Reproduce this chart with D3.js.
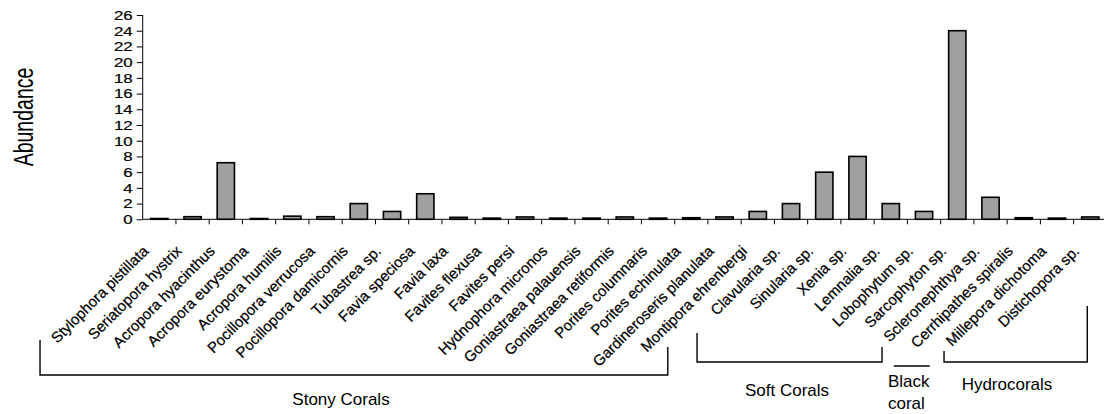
<!DOCTYPE html>
<html>
<head>
<meta charset="utf-8">
<script src="https://cdn.jsdelivr.net/npm/d3@7"></script>
<style>
  html, body { margin: 0; padding: 0; background: #fff; }
  svg { display: block; font-family: "Liberation Sans", Arial, sans-serif; }
</style>
</head>
<body>
<svg id="chart" width="1104" height="414"></svg>
<script>
// ---------------- data ----------------
const categories = [
  "Stylophora pistillata", "Seriatopora hystrix", "Acropora hyacinthus", "Acropora eurystoma",
  "Acropora humilis", "Pocillopora verrucosa", "Pocillopora damicornis", "Tubastrea sp.",
  "Favia speciosa", "Favia laxa", "Favites flexusa", "Favites persi", "Hydnophora micronos",
  "Goniastraea palauensis", "Goniastraea retiformis", "Porites columnaris", "Porites echinulata",
  "Gardineroseris planulata", "Montipora ehrenbergi", "Clavularia sp.", "Sinularia sp.",
  "Xenia sp.", "Lemnalia sp.", "Lobophytum sp.", "Sarcophyton sp.", "Scleronephthya sp.",
  "Cerrhipathes spiralis", "Millepora dichotoma", "Distichopora sp."
];
const abundance = [
  0.1, 0.33, 7.2, 0.1, 0.4, 0.33, 2.0, 1.0, 3.25, 0.25, 0.15, 0.3, 0.15,
  0.15, 0.3, 0.15, 0.2, 0.3, 1.0, 2.0, 6.0, 8.0, 2.0, 1.0, 24.0, 2.8,
  0.2, 0.15, 0.3
];
const yTickValues = [0, 2, 4, 6, 8, 10, 12, 14, 16, 18, 20, 22, 24, 26];
const groupNames = ["Stony Corals", "Soft Corals", "Black coral", "Hydrocorals"];
const groupFirst = [0, 19, 26, 27];
const groupLast  = [18, 25, 26, 28];
const yTitle = "Abundance";

// ---------------- layout ----------------
const svg = d3.select("#chart");
const X0 = 142.7, X1 = 1106.9, Y0 = 219.3, Y1 = 15;
const SX = 1.35;            // horizontal stretch of axis text

const x = d3.scaleBand().domain(categories).range([X0, X1]).padding(0);
const y = d3.scaleLinear().domain([0, 26]).range([Y0, Y1]);
const barW = x.bandwidth() * 0.52;
const cx = c => x(c) + x.bandwidth() / 2;

// bars
svg.append("g").selectAll("rect")
  .data(categories)
  .join("rect")
  .attr("x", c => cx(c) - barW / 2)
  .attr("y", (c, i) => y(abundance[i]))
  .attr("width", barW)
  .attr("height", (c, i) => Y0 - y(abundance[i]))
  .attr("fill", "#a0a0a0")
  .attr("stroke", "#000")
  .attr("stroke-width", 1.6);

// y axis
const yAxis = svg.append("g").attr("transform", `translate(${X0},0)`)
  .call(d3.axisLeft(y).tickValues(yTickValues).tickSize(6).tickFormat(d3.format("d")));
yAxis.select(".domain").attr("stroke", "#000").attr("d", `M0,${Y0}V${Y1}`);
yAxis.selectAll(".tick line").attr("stroke", "#000");
yAxis.selectAll(".tick text").remove();
yAxis.selectAll(".tick").append("text")
  .attr("transform", `translate(-10,4.4) scale(${SX},1)`)
  .attr("text-anchor", "end")
  .attr("font-size", 12.5)
  .attr("fill", "#000")
  .attr("stroke", "#000").attr("stroke-width", 0.2)
  .text(d => d);

// x axis line and ticks between categories
const xg = svg.append("g");
xg.append("line").attr("x1", X0).attr("x2", X1).attr("y1", Y0).attr("y2", Y0)
  .attr("stroke", "#000").attr("stroke-width", 1);
xg.selectAll("line.tk").data(categories.slice(1).concat(["__end"]))
  .join("line").attr("class", "tk")
  .attr("x1", c => c === "__end" ? X1 : x(c))
  .attr("x2", c => c === "__end" ? X1 : x(c))
  .attr("y1", Y0).attr("y2", Y0 + 5)
  .attr("stroke", "#000");

// category labels
xg.selectAll("text.cat").data(categories).join("text").attr("class", "cat")
  .attr("transform", c => `translate(${cx(c) - 10},252) rotate(-45)`)
  .attr("text-anchor", "end")
  .attr("font-size", 15)
  .attr("fill", "#000")
  .attr("stroke", "#000").attr("stroke-width", 0.25)
  .text(c => c);

// y title
svg.append("text")
  .attr("transform", `translate(33,117) scale(1.4,1) rotate(-90)`)
  .attr("text-anchor", "middle")
  .attr("font-size", 19.5)
  .attr("fill", "#000")
  .text(yTitle);

// group brackets (offsets relative to category centres, since labels slant down-left)
const bracketLayout = [
  { dl: -119.3, dr: -90,   yh: 375, yl: 340, yr: 347, tx: 341,  ty: 405, lines: [groupNames[0]], anchor: "middle" },
  { dl: -94,    dr: -108.5, yh: 362, yl: 333, yr: 347, tx: 787,  ty: 396, lines: [groupNames[1]], anchor: "middle" },
  { dl: -130,   dr: -94,   yh: 366, yl: 366, yr: 366, tx: 888,  ty: 387, lines: ["Black", "coral"], anchor: "start" },
  { dl: -113,   dr: -3,    yh: 362, yl: 351, yr: 306, tx: 1007, ty: 390, lines: [groupNames[3]], anchor: "middle" }
];
const bg = svg.append("g");
groupNames.forEach((name, i) => {
  const L = bracketLayout[i];
  const xl = cx(categories[groupFirst[i]]) + L.dl;
  const xr = cx(categories[groupLast[i]]) + L.dr;
  bg.append("path")
    .attr("d", `M${xl},${L.yl}V${L.yh}H${xr}V${L.yr}`)
    .attr("fill", "none").attr("stroke", "#000").attr("stroke-width", 1.4);
  const t = bg.append("text")
    .attr("x", L.tx).attr("y", L.ty)
    .attr("text-anchor", L.anchor)
    .attr("font-size", 17)
    .attr("fill", "#000");
  L.lines.forEach((ln, k) => {
    t.append("tspan").attr("x", L.tx).attr("dy", k === 0 ? 0 : 22).text(ln);
  });
});
</script>
</body>
</html>
